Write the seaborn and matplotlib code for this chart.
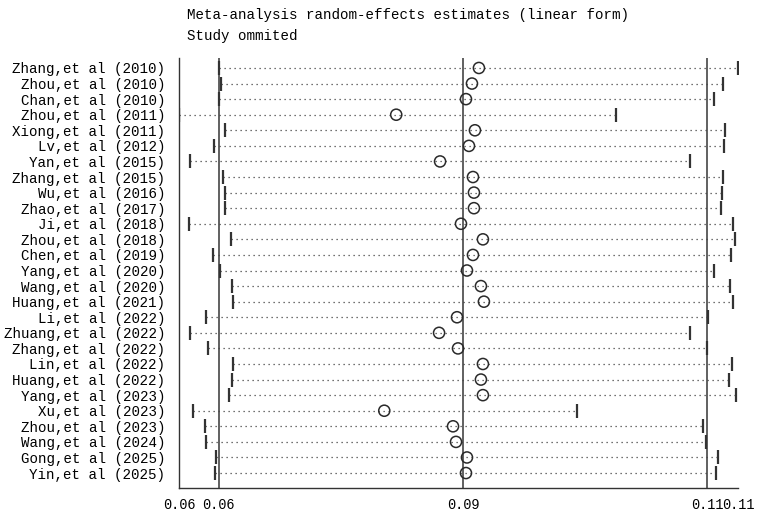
import matplotlib
matplotlib.use("Agg")
import matplotlib.pyplot as plt
import seaborn as sns
import pandas as pd

# study omitted -> pooled estimate with 95% CI
studies = ["Zhang,et al (2010)", "Zhou,et al (2010)", "Chan,et al (2010)", "Zhou,et al (2011)",
           "Xiong,et al (2011)", "Lv,et al (2012)", "Yan,et al (2015)", "Zhang,et al (2015)",
           "Wu,et al (2016)", "Zhao,et al (2017)", "Ji,et al (2018)", "Zhou,et al (2018)",
           "Chen,et al (2019)", "Yang,et al (2020)", "Wang,et al (2020)", "Huang,et al (2021)",
           "Li,et al (2022)", "Zhuang,et al (2022)", "Zhang,et al (2022)", "Lin,et al (2022)",
           "Huang,et al (2022)", "Yang,et al (2023)", "Xu,et al (2023)", "Zhou,et al (2023)",
           "Wang,et al (2024)", "Gong,et al (2025)", "Yin,et al (2025)"]
est = [0.0876, 0.0869, 0.0863, 0.0793, 0.0872, 0.0866, 0.0837, 0.0870, 0.0871, 0.0871,
       0.0858, 0.0880, 0.0870, 0.0864, 0.0878, 0.0881, 0.0854, 0.0836, 0.0855, 0.0880,
       0.0878, 0.0880, 0.0781, 0.0850, 0.0853, 0.0864, 0.0863]
lower = [0.0615, 0.0617, 0.0615, 0.0575, 0.0621, 0.0610, 0.0586, 0.0619, 0.0621, 0.0621,
         0.0585, 0.0627, 0.0609, 0.0616, 0.0628, 0.0629, 0.0602, 0.0586, 0.0604, 0.0629,
         0.0628, 0.0625, 0.0589, 0.0601, 0.0602, 0.0612, 0.0611]
upper = [0.1136, 0.1121, 0.1112, 0.1014, 0.1123, 0.1122, 0.1088, 0.1121, 0.1120, 0.1119,
         0.1131, 0.1133, 0.1129, 0.1112, 0.1128, 0.1131, 0.1106, 0.1088, 0.1105, 0.1130,
         0.1127, 0.1134, 0.0974, 0.1101, 0.1104, 0.1116, 0.1114]
overall_lo, overall_est, overall_hi = 0.0615, 0.0860, 0.1105

sns.set_style("white")
plt.rcParams['font.family'] = ['Liberation Mono', 'DejaVu Sans Mono']
fs = 10.2
txt = '#000000'

df = pd.DataFrame({'study': studies, 'est': est, 'lower': lower, 'upper': upper,
                   'row': range(len(studies))})

fig = plt.figure(figsize=(7.67, 5.17), dpi=100)
ax = fig.add_axes([179/767, 29/517, 559/767, 430/517])

# reference lines for the overall estimate and its CI
for v in [overall_lo, overall_est, overall_hi]:
    ax.axvline(v, color='#606060', lw=1.4, zorder=1)

ax.hlines(df.row, df.lower, df.upper, colors='#444444', lw=0.9,
          linestyles=[(0, (1, 3))], zorder=2)
sns.scatterplot(data=df, x='lower', y='row', marker='|', s=90, linewidth=1.6,
                color='#333333', ax=ax, zorder=3, legend=False)
sns.scatterplot(data=df, x='upper', y='row', marker='|', s=90, linewidth=1.6,
                color='#333333', ax=ax, zorder=3, legend=False)
sns.scatterplot(data=df, x='est', y='row', marker='o', s=64, facecolor='none',
                edgecolor='#2a2a2a', linewidth=1.1, ax=ax, zorder=4, legend=False)

xmin, xmax = min(lower), max(upper)
ticks = [xmin, overall_lo, overall_est, overall_hi, xmax]
ax.set_xlim(xmin, xmax)
ax.set_xticks(ticks)
ax.set_xticklabels([f"{t:.2f}" for t in ticks], fontsize=fs - 0.4, color=txt)
ax.set_ylim(len(studies) - 1 + 0.96, -0.64)
ax.set_yticks(df.row)
ax.set_yticklabels(df.study, fontsize=fs, color=txt)
ax.tick_params(axis='y', length=0, pad=10)
ax.tick_params(axis='x', length=5, width=1.0, color='#333333', pad=2, direction='out')
ax.set_xlabel('')
ax.set_ylabel('')

for s in ['top', 'right']:
    ax.spines[s].set_visible(False)
for s in ['left', 'bottom']:
    ax.spines[s].set_color('#333333')
    ax.spines[s].set_linewidth(1.0)

fig.text(187/767, 1 - 15/517, "Meta-analysis random-effects estimates (linear form)",
         fontsize=fs, color=txt, va='center', ha='left')
fig.text(187/767, 1 - 36/517, "Study ommited", fontsize=fs, color=txt, va='center', ha='left')

fig.savefig("out.png", dpi=100, facecolor='white')
